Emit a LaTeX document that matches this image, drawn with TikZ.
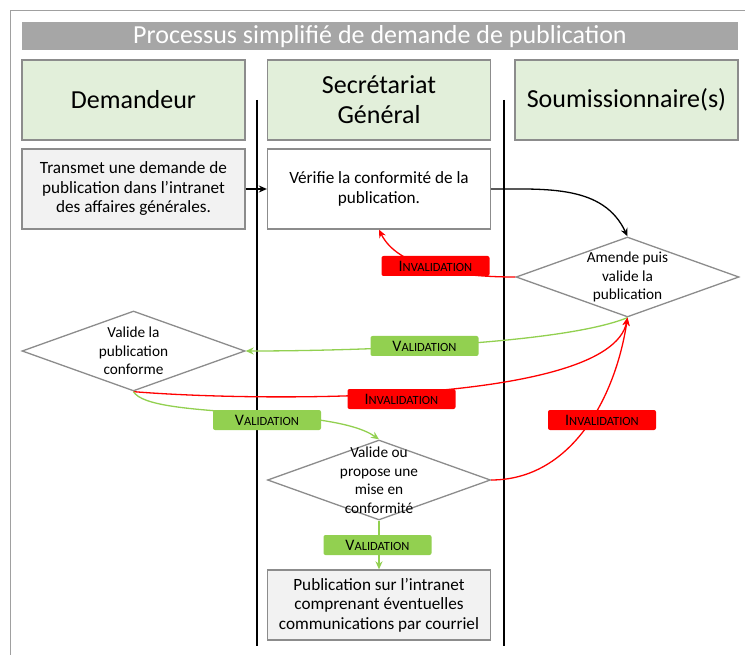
\documentclass[tikz,border=0pt]{standalone}
\usepackage{fontspec}
\setmainfont{Carlito}
\usetikzlibrary{shapes.geometric,arrows.meta}
\definecolor{bordergray}{HTML}{8C8C8C}
\definecolor{framegray}{HTML}{A0A0A0}
\definecolor{titlegray}{HTML}{A6A6A6}
\definecolor{headgreen}{HTML}{E2EFDA}
\definecolor{boxgray}{HTML}{F2F2F2}
\definecolor{labgreen}{HTML}{92D050}
\definecolor{labred}{HTML}{FF0000}
\newcommand{\smc}[2]{{\fontsize{16}{16}\selectfont #1}{\fontsize{12.5}{13}\selectfont #2}}
\begin{document}
\begin{tikzpicture}[x=1pt,y=-1pt,
  box/.style={draw=bordergray, line width=1.3pt, minimum width=223pt, minimum height=80pt, inner sep=2pt, align=center, font=\fontsize{17.2}{19.5}\selectfont},
  head/.style={box, fill=headgreen, font=\fontsize{26}{30}\selectfont},
  dia/.style={diamond, draw=bordergray, fill=white, line width=1.3pt, minimum width=223pt, minimum height=80pt, inner sep=0pt},
  diatext/.style={align=center, inner sep=0pt, font=\fontsize{15.3}{18.5}\selectfont},
  lab/.style={rounded corners=2pt, minimum width=108pt, minimum height=20pt, inner sep=0pt},
  vlab/.style={lab, fill=labgreen},
  ilab/.style={lab, fill=labred},
  gline/.style={draw=labgreen, line width=1.3pt},
  rline/.style={draw=labred, line width=1.3pt},
  tip/.style={-{Stealth[length=8pt,width=7pt]}}
]
\useasboundingbox (0,0) rectangle (745,655);
\fill[white] (0,0) rectangle (745,655);
\draw[framegray, line width=1pt] (10.5,10.5) rectangle (800,700);

% title
\node[fill=titlegray, minimum width=716pt, minimum height=28pt, inner sep=0pt, text=white, font=\fontsize{26}{28}\selectfont] (title) at (380,36.5) {Processus simplifié de demande de publication};

% lane lines
\coordinate (l1t) at (257,100); \coordinate (l1b) at (257,646);
\coordinate (l2t) at (504,100); \coordinate (l2b) at (504,646);
\draw[line width=2pt] (l1t) -- (l1b);
\draw[line width=2pt] (l2t) -- (l2b);

% headers
\node[head] (h1) at (133.5,100) {Demandeur};
\node[head] (h2) at (379,100) {Secrétariat\\Général};
\node[head] (h3) at (626.5,100) {Soumissionnaire(s)};

% boxes
\node[box, fill=boxgray] (b1) at (133.5,189) {Transmet une demande de\\publication dans l’intranet\\des affaires générales.};
\node[box, fill=white] (b2) at (379,189) {Vérifie la conformité de la\\publication.};
\node[box, fill=boxgray, minimum height=70pt] (b3) at (379,605) {Publication sur l’intranet\\comprenant éventuelles\\communications par courriel};

% diamonds
\node[dia] (d1) at (627.5,277) {};
\node[dia] (d2) at (133.5,351) {};
\node[dia] (d3) at (379,480) {};
\node[diatext] (t1) at (d1) {Amende puis\\valide la\\publication};
\node[diatext] (t2) at (d2) {Valide la\\publication\\conforme};
\node[diatext] (t3) at (d3) {Valide ou\\propose une\\mise en\\conformité};

% connectors
\draw[line width=1.3pt, tip] (b1.east) -- (b2.west);
\draw[line width=1.3pt, tip] (b2.east) to[out=0, in=115] (d1.north);
\draw[rline, tip] (d1.west) .. controls (440,277) and (395,262) .. (b2.south);
\draw[gline, tip] (d1.south) .. controls (560,345) and (350,351) .. (d2.east);
\draw[rline, tip] (d2.south) .. controls (260,402) and (610,405) .. (d1.south);
\draw[gline, tip] (d2.south) .. controls (150,420) and (330,405) .. (d3.north);
\draw[rline, tip] (d3.east) .. controls (570,480) and (615,400) .. (d1.south);
\draw[gline, tip] (d3.south) -- (b3.north);

% labels
\node[ilab] (i1) at (435.5,266) {\smc{I}{NVALIDATION}};
\node[vlab] (v1) at (424.5,346) {\smc{V}{ALIDATION}};
\node[ilab] (i2) at (401.5,399) {\smc{I}{NVALIDATION}};
\node[vlab] (v2) at (267,420) {\smc{V}{ALIDATION}};
\node[ilab] (i3) at (602,420) {\smc{I}{NVALIDATION}};
\node[vlab] (v3) at (377.5,545) {\smc{V}{ALIDATION}};
\end{tikzpicture}
\end{document}
